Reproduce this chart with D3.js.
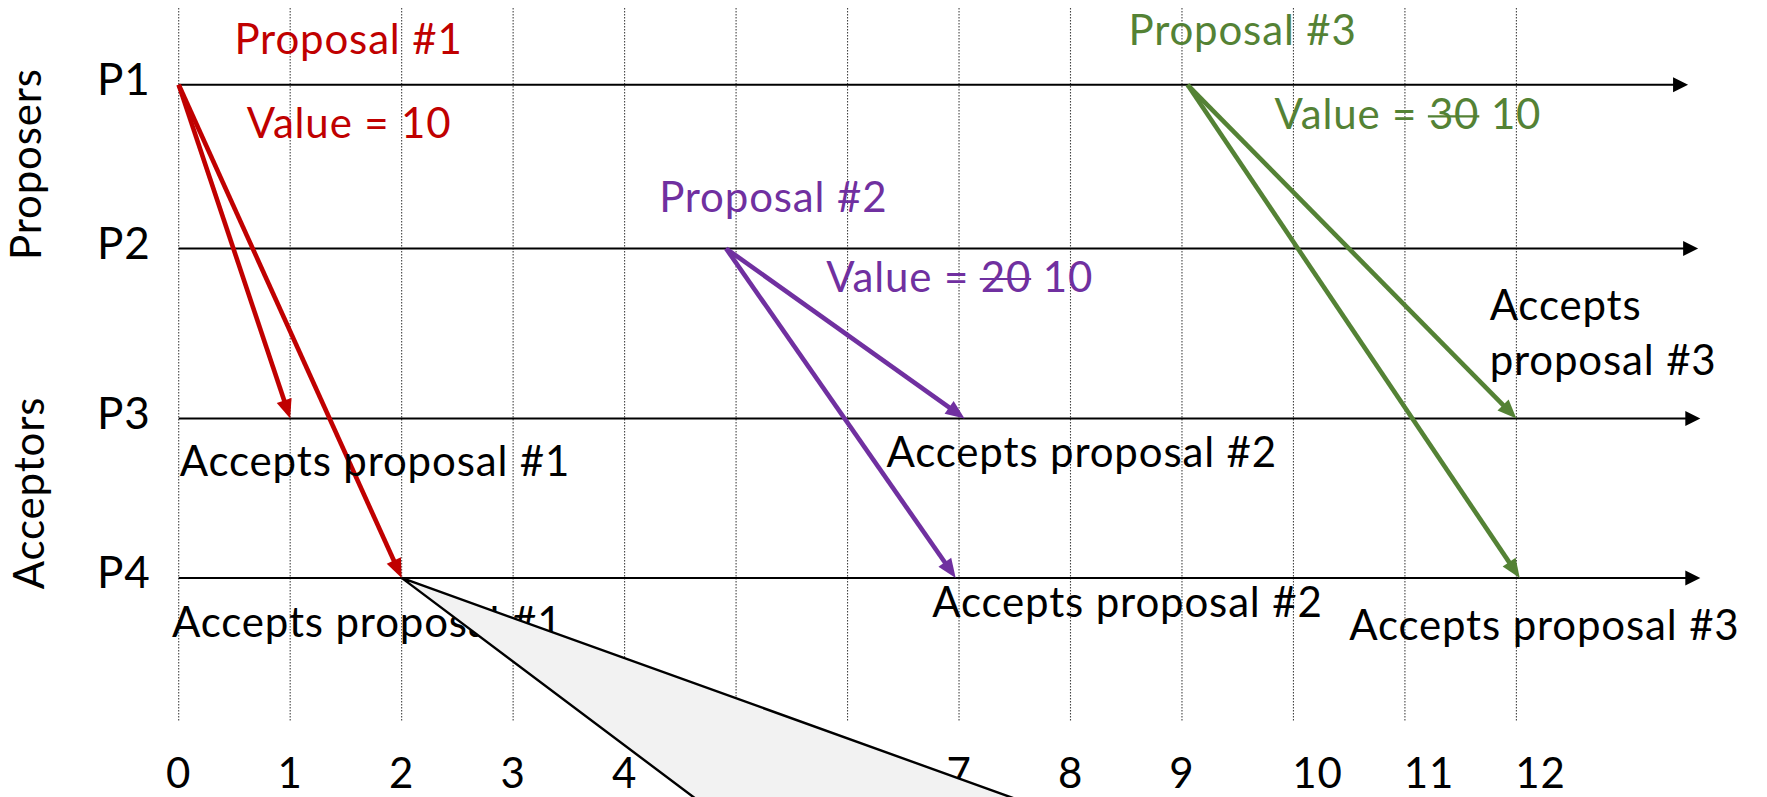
<!DOCTYPE html>
<html><head><meta charset="utf-8">
<script src="https://cdn.jsdelivr.net/npm/d3@7/dist/d3.min.js"></script>
<style>
html,body{margin:0;padding:0;background:#fff;}
svg{display:block;}
text{font-family:Lato,"Open Sans",sans-serif;letter-spacing:0.85px;}
</style></head><body>
<svg id="chart" width="1767" height="797"></svg>
<script>
// ---------- data ----------
const timeTicks = [0,1,2,3,4,5,6,7,8,9,10,11,12];
const processes = ["P1","P2","P3","P4"];
const groupLabels = ["Proposers","Acceptors"];
const groupCenterY = [164, 493];
const timelineEnd = [13.54, 13.63, 13.65, 13.65];

const msgFrom = ["P1","P1","P2","P2","P1","P1"];
const msgTo   = ["P3","P4","P3","P4","P3","P4"];
const msgStart = [0, 0, 4.91, 4.91, 9.05, 9.05];
const msgEnd   = [1, 2, 7.05, 6.97, 12, 12.03];
const msgProposal = [1,1,2,2,3,3];

const proposalIds = [1,2,3];
const proposalColors = ["#C00000","#7030A0","#548235"];
const proposalLane = ["P1","P2","P1"];
const proposalT  = [0.50, 4.31, 8.52];
const proposalDy = [-30.5, -36.5, -39.5];
const valueOld = [null, 20, 30];
const valueNew = [10, 10, 10];
const valueT  = [0.61, 5.81, 9.83];
const valueDy = [53.5, 43.5, 44.5];

const acceptText = ["Accepts proposal #1","Accepts proposal #1","Accepts proposal #2","Accepts proposal #2","Accepts|proposal #3","Accepts proposal #3"];
const acceptLane = ["P3","P4","P3","P4","P3","P4"];
const acceptT  = [0.01, -0.06, 6.35, 6.76, 11.76, 10.50];
const acceptDy = [57.5, 59, 48.5, 39.5, -98.5, 62.5];

// callout pointer (tip at time 2 on P4)
const calloutTipT = 2, calloutLane = "P4";
const calloutBaseT = [5.01, 8.28], calloutBaseDy = 252;

// ---------- layout ----------
const W = 1767, H = 797;
const FS = 42;
const x = d3.scaleLinear().domain([0,12]).range([178.7, 1516.4]);
const y = d3.scaleOrdinal().domain(processes).range([84.8, 248.5, 418.5, 577.9]);
const svg = d3.select("#chart");

// vertical dotted grid
svg.append("g").selectAll("line").data(timeTicks).join("line")
  .attr("x1", d=>x(d)).attr("x2", d=>x(d))
  .attr("y1", 8).attr("y2", 722)
  .attr("stroke", "#444").attr("stroke-width", 1.1)
  .attr("stroke-dasharray", "1.6,1.4");

// timelines
const tl = svg.append("g");
processes.forEach((p,i)=>{
  const xe = x(timelineEnd[i]), yy = y(p);
  tl.append("line").attr("x1", x(0)).attr("x2", xe-12).attr("y1", yy).attr("y2", yy)
    .attr("stroke","#000").attr("stroke-width",2);
  tl.append("path").attr("d", `M${xe},${yy} L${xe-15},${yy-7.5} L${xe-15},${yy+7.5} Z`).attr("fill","#000");
});

// process labels
svg.append("g").selectAll("text").data(processes).join("text")
  .attr("x", 97).attr("y", d=>y(d)+10.5)
  .attr("font-size", 44).attr("fill","#000").text(d=>d);

// group labels (rotated)
svg.append("g").selectAll("text").data(groupLabels).join("text")
  .attr("transform", (d,i)=>`translate(${i===0?40.5:44},${groupCenterY[i]}) rotate(-90)`)
  .attr("text-anchor","middle").attr("font-size", 42).attr("fill","#000").text(d=>d);

// messages
const mg = svg.append("g");
msgFrom.forEach((f,i)=>{
  const col = proposalColors[msgProposal[i]-1];
  const x0 = x(msgStart[i]), y0 = y(f), x1 = x(msgEnd[i]), y1 = y(msgTo[i]);
  const ang = Math.atan2(y1-y0, x1-x0);
  const L = 19, hw = 7.8;
  const bx = x1 - L*Math.cos(ang), by = y1 - L*Math.sin(ang);
  const px = -Math.sin(ang)*hw, py = Math.cos(ang)*hw;
  mg.append("line").attr("x1",x0).attr("y1",y0)
    .attr("x2", x1-(L-3)*Math.cos(ang)).attr("y2", y1-(L-3)*Math.sin(ang))
    .attr("stroke", col).attr("stroke-width", 4.6);
  mg.append("path").attr("d", `M${x1},${y1} L${bx+px},${by+py} L${bx-px},${by-py} Z`).attr("fill", col);
});

// accept labels
const ag = svg.append("g");
acceptText.forEach((t,i)=>{
  const lines = t.split("|");
  const txt = ag.append("text").attr("font-size", FS).attr("fill","#000");
  lines.forEach((ln,k)=>{
    txt.append("tspan").attr("x", x(acceptT[i])).attr("y", y(acceptLane[i]) + acceptDy[i] + k*55).text(ln);
  });
});

// proposal labels and values
const pg = svg.append("g");
proposalIds.forEach((id,i)=>{
  const col = proposalColors[i];
  pg.append("text").attr("x", x(proposalT[i])).attr("y", y(proposalLane[i]) + proposalDy[i])
    .attr("font-size", FS).attr("fill", col).text("Proposal #" + id);
  const vy = y(proposalLane[i]) + valueDy[i];
  const vt = pg.append("text").attr("x", x(valueT[i])).attr("y", vy)
    .attr("font-size", FS).attr("fill", col);
  vt.append("tspan").text("Value = ");
  if (valueOld[i] !== null) {
    vt.append("tspan").attr("class","old").text(String(valueOld[i]));
    vt.append("tspan").text(" " + valueNew[i]);
    const node = vt.node();
    const start = "Value = ".length, n = String(valueOld[i]).length;
    const e0 = node.getExtentOfChar(start), e1 = node.getExtentOfChar(start+n-1);
    pg.append("line").attr("x1", e0.x - 1).attr("x2", e1.x + e1.width)
      .attr("y1", vy - 13).attr("y2", vy - 13).attr("stroke", col).attr("stroke-width", 2.2);
  } else {
    vt.append("tspan").text(String(valueNew[i]));
  }
});

// time tick labels
svg.append("g").selectAll("text").data(timeTicks).join("text")
  .attr("x", d=>x(d) + (d>=10 ? 24 : 0)).attr("y", 788)
  .attr("text-anchor","middle").attr("font-size", FS).attr("fill","#000").text(d=>d);

// callout pointer
const tipX = x(calloutTipT), tipY = y(calloutLane);
svg.append("path")
  .attr("d", `M${tipX},${tipY} L${x(calloutBaseT[1])},${tipY+calloutBaseDy} L${x(calloutBaseT[0])},${tipY+calloutBaseDy} Z`)
  .attr("fill","#F2F2F2").attr("stroke","#000").attr("stroke-width",2.4).attr("stroke-linejoin","miter");
</script>
</body></html>
